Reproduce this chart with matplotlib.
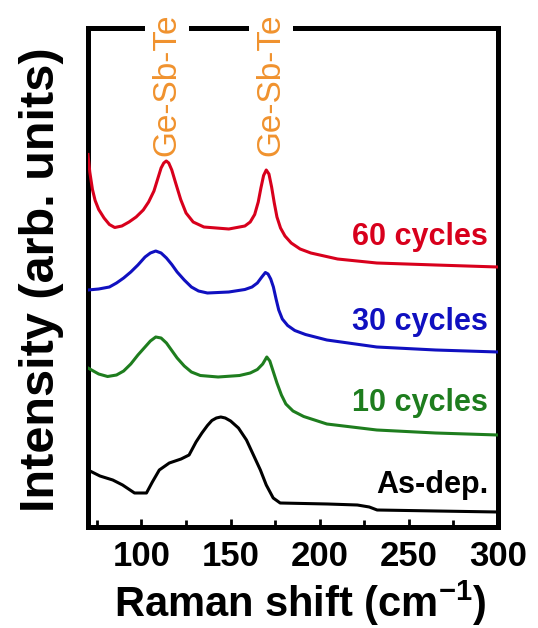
import matplotlib
matplotlib.use("Agg")
import matplotlib.pyplot as plt
from matplotlib.ticker import MultipleLocator

plt.rcParams['font.family'] = ['Liberation Sans', 'DejaVu Sans']
plt.rcParams['font.weight'] = 'bold'
plt.rcParams['mathtext.fontset'] = 'custom'
plt.rcParams['mathtext.rm'] = 'Liberation Sans:bold'
plt.rcParams['mathtext.bf'] = 'Liberation Sans:bold'
plt.rcParams['mathtext.default'] = 'bf'

# Raman spectra (arbitrary units, offset stacked)
x_60 = [70, 71, 72.5, 74, 76, 79, 82, 85, 89, 93, 97, 101, 104, 107, 109, 111, 112.5,
        113.9, 115.3, 117, 119, 122, 125, 129, 135, 149, 158, 161, 163.5, 165.5, 167,
        168.5, 170, 171.5, 173, 174.5, 176, 178, 180.5, 184, 189, 195, 210, 232, 265, 300]
y_60 = [74.5, 71, 67.5, 65.3, 63.5, 61.8, 60.5, 59.9, 60.2, 61, 62, 63.4, 65, 67.2,
        69.5, 71.8, 72.8, 73.2, 72.8, 71.4, 69, 65.5, 62.8, 61, 60, 59.6, 60.2, 61,
        62.5, 65, 67.8, 70.3, 71.4, 70.6, 68, 64.8, 62, 59.8, 58.2, 56.8, 55.6, 54.8,
        53.6, 52.8, 52.4, 52]

x_30 = [70, 76, 82, 86, 90, 94, 98, 102, 105, 108, 111, 114, 117, 120, 124, 128, 132,
        137, 149, 158, 162, 165, 167.5, 169.5, 171, 172.5, 174, 175.5, 177, 179, 182,
        186, 192, 204, 232, 265, 300]
y_30 = [47.4, 47.6, 48, 48.8, 49.8, 51, 52.4, 54, 54.8, 55.2, 54.8, 53.8, 52.5, 51,
        49.4, 48, 47.2, 46.8, 47, 47.5, 48, 48.8, 50, 50.9, 50.6, 49.6, 48, 45.6,
        43.4, 41.6, 40.3, 39.3, 38.5, 37.4, 36, 35.4, 35]

x_10 = [70, 76, 81, 86, 90, 94, 98, 102, 105, 108, 111, 114, 117, 120, 124, 128, 133,
        143, 155, 161, 165, 168, 170.3, 172, 174, 176, 178.5, 181, 185, 191, 204, 232,
        265, 300]
y_10 = [31.8, 30.6, 30.1, 30.4, 31.2, 32.6, 34.4, 36, 37.2, 38, 37.8, 36.8, 35.3,
        33.8, 32.2, 31, 30.3, 30, 30.3, 30.8, 31.5, 32.6, 34, 33.2, 31, 28.8, 26.4,
        24.6, 23.2, 22.1, 20.6, 19.4, 18.8, 18.4]

x_dep = [70, 76.7, 83.9, 89.4, 96.1, 102.8, 106.1, 110, 115.6, 122.2, 126.7, 130.6,
         133.9, 137, 139.5, 142, 144.5, 147, 150, 154.4, 158.9, 162.8, 166.7, 170,
         173.9, 177.8, 204.4, 221.1, 227.8, 232.2, 265.6, 300]
y_dep = [11.4, 10.2, 9.4, 8.4, 6.8, 6.8, 9, 11.4, 12.8, 13.6, 14.4, 17,
         18.8, 20.3, 21.3, 21.8, 22, 21.8, 21.2, 19.8, 17.4, 14.4, 11.4, 8.4,
         5.8, 4.8, 4.6, 4.4, 4, 3.4, 3.2, 3]

peak_pos = [114.3, 172.8]
peak_name = 'Ge-Sb-Te'

series = [
    (x_60, y_60, '#d8001c', '60 cycles', 58.0),
    (x_30, y_30, '#1010c0', '30 cycles', 41.0),
    (x_10, y_10, '#1e7d1e', '10 cycles', 24.8),
    (x_dep, y_dep, 'black', 'As-dep.', 8.4),
]

fig = plt.figure(figsize=(5.38, 6.28), dpi=100)
ax = fig.add_axes([88 / 538, 101 / 628, 410 / 538, 499 / 628])

for xs, ys, col, name, ly in series:
    ax.plot(xs, ys, color=col, lw=2.2, zorder=4)
    ax.text(294.5, ly, name, color=col, fontsize=22, fontweight='bold',
            ha='right', va='center')

# peak labels sit on top of the frame, hiding the top spine behind them
for p in peak_pos:
    ax.text(p, 88.5, peak_name, color='#f0922e', fontsize=24, fontweight='normal',
            rotation=90, ha='center', va='center', clip_on=False, zorder=3,
            bbox=dict(facecolor='white', edgecolor='none', boxstyle='square,pad=0.2'))

ax.set_xlim(70, 300)
ax.set_ylim(0, 99.8)
ax.xaxis.set_major_locator(MultipleLocator(50))
ax.xaxis.set_minor_locator(MultipleLocator(25))
ax.tick_params(axis='x', which='both', direction='in', width=2, labelsize=25, pad=9)
ax.tick_params(axis='x', which='major', length=6)
ax.tick_params(axis='x', which='minor', length=5)
ax.set_yticks([])
for s in ax.spines.values():
    s.set_linewidth(3.6)

fig.text(300 / 538, 1 - 603 / 628, r'Raman shift (cm$^{-1}$)', fontsize=30,
         fontweight='bold', ha='center', va='center')
fig.text(42 / 538, 1 - 280 / 628, 'Intensity (arb. units)', fontsize=35,
         fontweight='bold', rotation=90, ha='center', va='center')

fig.savefig('out.png', dpi=100)
